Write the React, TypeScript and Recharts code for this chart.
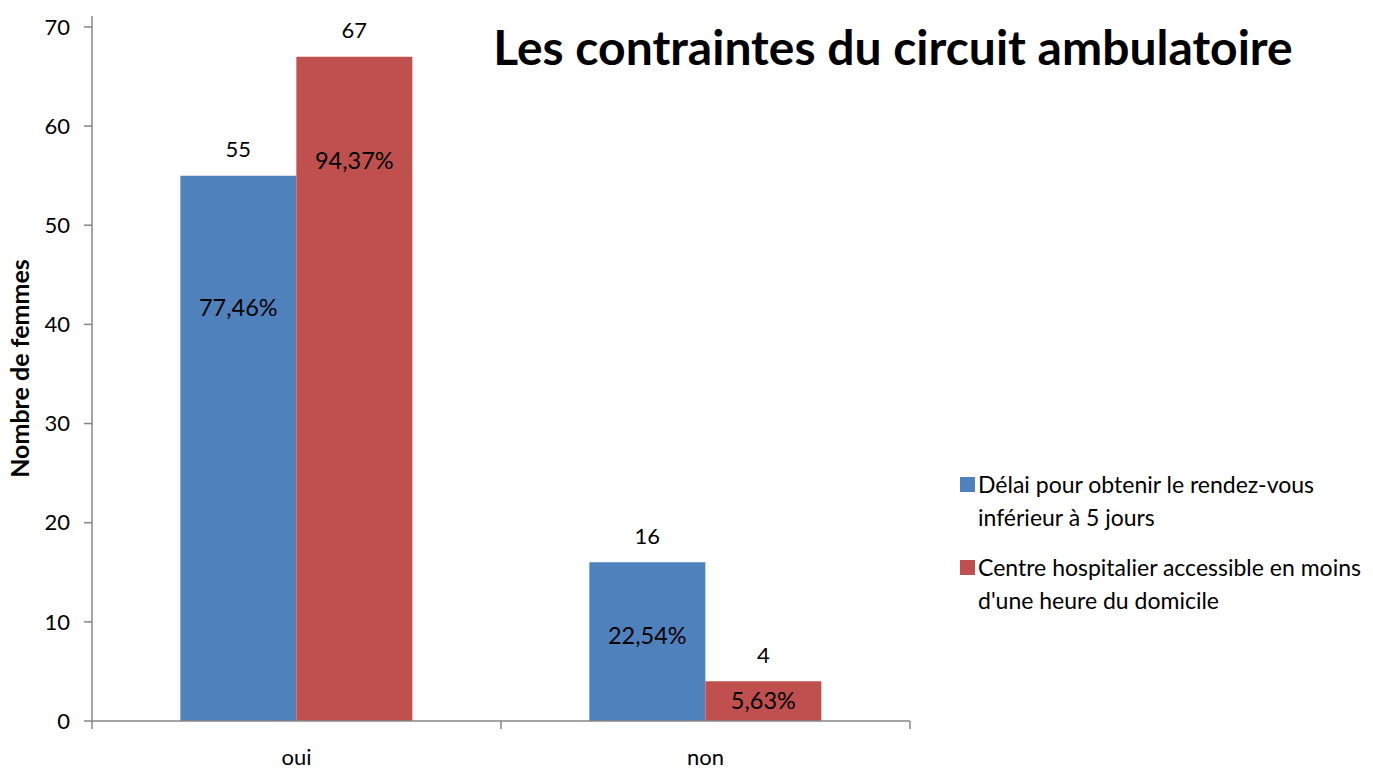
import React from 'react';
import { ComposedChart, Bar, XAxis, YAxis, Legend, LabelList } from 'recharts';

const categories = ['oui', 'non'];
const delaiValues = [55, 16];
const centreValues = [67, 4];
const delaiPct = ['77,46%', '22,54%'];
const centrePct = ['94,37%', '5,63%'];
const yTicks = [0, 10, 20, 30, 40, 50, 60, 70];

const seriesNames = [
    'Délai pour obtenir le rendez-vous inférieur à 5 jours',
    "Centre hospitalier accessible en moins d'une heure du domicile",
];
const legendLines = [
    ['Délai pour obtenir le rendez-vous', 'inférieur à 5 jours'],
    ['Centre hospitalier accessible en moins', "d'une heure du domicile"],
];

// where the % label sits inside each bar (fraction of bar height from bottom)
const delaiPctLift = [0.76, 0.54];
const centrePctLift = [0.845, 0.52];

const BLUE = '#4F81BD';
const RED = '#C0504D';
const AXIS = '#868686';
const FONT = 'Lato, "Noto Sans", sans-serif';

const W = 1373;
const H = 769;
const PLOT_LEFT = 92;
const PLOT_RIGHT = 910;
const PLOT_BOTTOM = 721;
const BAND = (PLOT_RIGHT - PLOT_LEFT) / categories.length;

const data = categories.map((c, i) => ({
    cat: c,
    delai: delaiValues[i],
    centre: centreValues[i],
    delaiPct: delaiPct[i],
    centrePct: centrePct[i],
}));

const XTick = (props: any) => {
    const { x, payload, index } = props;
    const left = x - BAND / 2;
    return (
        <g>
            <line x1={left} y1={PLOT_BOTTOM} x2={left} y2={PLOT_BOTTOM + 8} stroke={AXIS} strokeWidth={1.5} />
            {index === categories.length - 1 && (
                <line x1={x + BAND / 2} y1={PLOT_BOTTOM} x2={x + BAND / 2} y2={PLOT_BOTTOM + 8} stroke={AXIS} strokeWidth={1.5} />
            )}
            <text x={x} y={PLOT_BOTTOM + 35} textAnchor="middle" dominantBaseline="central" fontSize={22} fontFamily={FONT} fill="#000">
                {payload.value}
            </text>
        </g>
    );
};

const topLabel = (props: any) => {
    const { x, y, width, value } = props;
    return (
        <text x={x + width / 2} y={y - 27} textAnchor="middle" dominantBaseline="central" fontSize={22} fontFamily={FONT} fill="#000">
            {value}
        </text>
    );
};

const pctLabel = (lifts: number[]) => (props: any) => {
    const { x, y, width, height, value, index } = props;
    const cy = y + height - height * lifts[index];
    return (
        <text x={x + width / 2} y={cy} textAnchor="middle" dominantBaseline="central" fontSize={23.5} fontFamily={FONT} fill="#000">
            {value}
        </text>
    );
};

const LegendBox = () => (
    <div style={{ fontFamily: FONT, fontSize: 23, color: '#000', lineHeight: '33px', textAlign: 'left' }}>
        {legendLines.map((lines, i) => (
            <div key={i} style={{ position: 'relative', paddingLeft: 21, marginBottom: 17 }}>
                <span
                    style={{
                        position: 'absolute',
                        left: 3,
                        top: 9,
                        width: 15,
                        height: 15,
                        background: i === 0 ? BLUE : RED,
                    }}
                />
                {lines.map((l, j) => (
                    <div key={j} style={{ whiteSpace: 'nowrap' }}>{l}</div>
                ))}
            </div>
        ))}
    </div>
);

export default function App() {
    return (
        <div style={{ position: 'absolute', left: 0, top: 0, width: W, height: H, background: '#fff' }}>
            <ComposedChart
                width={W}
                height={H}
                data={data}
                margin={{ top: 16, right: W - PLOT_RIGHT, left: 32, bottom: 0 }}
                barCategoryGap="21.6%"
                barGap={0}
            >
                <XAxis
                    dataKey="cat"
                    height={H - PLOT_BOTTOM}
                    stroke={AXIS}
                    strokeWidth={1.5}
                    tickLine={false}
                    tick={<XTick />}
                    interval={0}
                />
                <YAxis
                    width={60}
                    domain={[0, 71.1]}
                    ticks={yTicks}
                    stroke={AXIS}
                    strokeWidth={1.5}
                    tickSize={8}
                    tickMargin={14}
                    tick={{ fill: '#000', fontSize: 22, fontFamily: FONT }}
                    allowDataOverflow
                    label={{
                        value: 'Nombre de femmes',
                        angle: -90,
                        position: 'insideLeft',
                        dx: -17,
                        dy: 0,
                        style: { textAnchor: 'middle', fontWeight: 700, fontSize: 25, fontFamily: FONT, fill: '#000' },
                    }}
                />
                <Legend
                    layout="horizontal"
                    verticalAlign="middle"
                    align="center"
                    content={<LegendBox />}
                    wrapperStyle={{ left: 957, top: 468, width: 416 }}
                />
                <Bar dataKey="delai" name={seriesNames[0]} fill={BLUE} isAnimationActive={false}>
                    <LabelList dataKey="delai" content={topLabel} />
                    <LabelList dataKey="delaiPct" content={pctLabel(delaiPctLift)} />
                </Bar>
                <Bar dataKey="centre" name={seriesNames[1]} fill={RED} isAnimationActive={false}>
                    <LabelList dataKey="centre" content={topLabel} />
                    <LabelList dataKey="centrePct" content={pctLabel(centrePctLift)} />
                </Bar>
                <text
                    x={893}
                    y={46}
                    textAnchor="middle"
                    dominantBaseline="central"
                    fontSize={48}
                    fontWeight={700}
                    fontFamily={FONT}
                    fill="#000"
                >
                    Les contraintes du circuit ambulatoire
                </text>
            </ComposedChart>
        </div>
    );
}
